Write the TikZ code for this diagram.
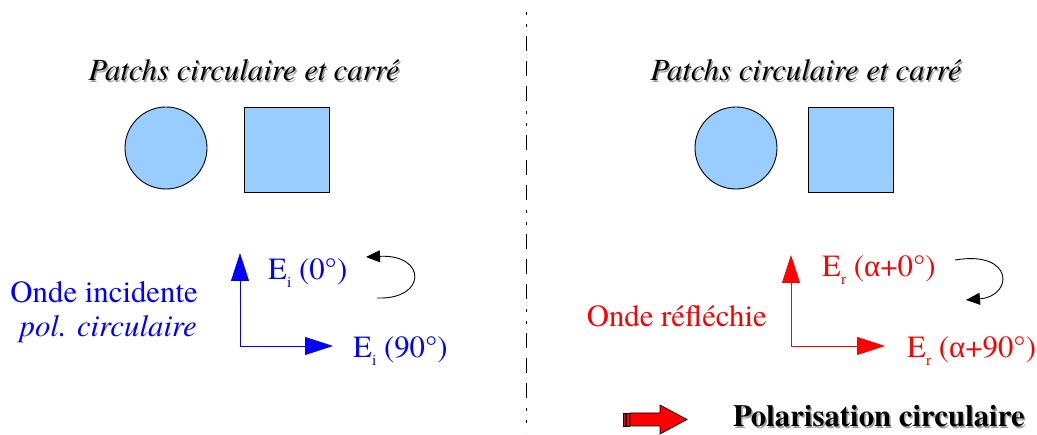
\documentclass[tikz,border=0pt]{standalone}
\usepackage{fontspec}
\setmainfont{texgyretermes}[Extension=.otf,UprightFont=*-regular,BoldFont=*-bold,ItalicFont=*-italic,BoldItalicFont=*-bolditalic]
\newfontfamily\symfont{Liberation Serif}
\usetikzlibrary{arrows.meta}
\definecolor{patch}{RGB}{153,204,255}
\definecolor{shad}{RGB}{160,160,160}
\newcommand{\Esub}[1]{E\raisebox{-7.5pt}{\fontsize{15.5}{15.5}\selectfont #1}}
\begin{document}
\begin{tikzpicture}[x=1pt,y=-1pt,
  txt/.style={inner sep=0pt,font=\fontsize{30.8}{36}\selectfont},
  shadowtxt/.style={txt,text=shad},
  patchshape/.style={draw=black,fill=patch,line width=0.9pt},
  fieldarrow/.style={line width=0.9pt,-{Triangle[length=28pt,width=18pt]}},
  rotarrow/.style={line width=0.9pt,black,-{Triangle[length=14pt,width=12pt]}},
  divider/.style={line width=0.9pt,dash pattern=on 3pt off 9pt on 3pt off 9pt on 15pt off 10pt on 15pt off 10pt on 15pt off 10pt}
]
\useasboundingbox (0,0) rectangle (1037,435);
% divider
\coordinate (dtop) at (526,12);
\coordinate (dbot) at (526,432);
\draw[divider] (dtop) -- (dbot);

% ---------- left half ----------
\node[shadowtxt,anchor=base] (ttlLs) at (245.5,82.5) {\itshape Patchs circulaire et carré};
\node[txt,anchor=base] (ttlL) at (244,81) {\itshape Patchs circulaire et carré};
\node[patchshape,circle,minimum size=82pt,inner sep=0pt] (circL) at (166,148) {};
\node[patchshape,rectangle,minimum width=85pt,minimum height=85pt,inner sep=0pt] (sqL) at (286.5,149.5) {};

\coordinate (oL) at (240,346);
\coordinate (vL) at (240,253);
\coordinate (hL) at (333,346);
\draw[fieldarrow,blue] (oL) -- (vL);
\draw[fieldarrow,blue] (oL) -- (hL);
\node[txt,text=blue,anchor=base west] (e0L) at (268,280) {\Esub{i} (0°)};
\node[txt,text=blue,anchor=base west] (e90L) at (353,358) {\Esub{i} (90°)};
\node[txt,text=blue,anchor=base east] (ondeL) at (198,303) {Onde incidente};
\node[txt,text=blue,anchor=base east] (polL) at (197,337) {\itshape pol. circulaire};
\coordinate (rLs) at (377,298);
\coordinate (rLe) at (366,257);
\draw[rotarrow] (rLs) .. controls (427,300) and (427,254) .. (rLe);

% ---------- right half ----------
\node[shadowtxt,anchor=base] (ttlRs) at (807.5,82.5) {\itshape Patchs circulaire et carré};
\node[txt,anchor=base] (ttlR) at (806,81) {\itshape Patchs circulaire et carré};
\node[patchshape,circle,minimum size=82pt,inner sep=0pt] (circR) at (736,148) {};
\node[patchshape,rectangle,minimum width=85pt,minimum height=85pt,inner sep=0pt] (sqR) at (851,149.5) {};

\coordinate (oR) at (791,346);
\coordinate (vR) at (791,255);
\coordinate (hR) at (885,346);
\draw[fieldarrow,red] (oR) -- (vR);
\draw[fieldarrow,red] (oR) -- (hR);
\node[txt,text=red,anchor=base west] (e0R) at (822,277) {\Esub{r} ({\symfont α}+0°)};
\node[txt,text=red,anchor=base west] (e90R) at (907,358) {\Esub{r} ({\symfont α}+90°)};
\node[txt,text=red,anchor=base east] (ondeR) at (767,327) {Onde réfléchie};
\coordinate (rRs) at (955,260);
\coordinate (rRe) at (966,300);
\draw[rotarrow] (rRs) .. controls (1014,250) and (1014,296) .. (rRe);

% ---------- block arrow + conclusion ----------
\draw[fill=red,line width=0.7pt] (623,413) rectangle (625.5,426);
\draw[fill=red,line width=0.7pt] (626.5,413) rectangle (629,426);
\draw[fill=red,line width=0.7pt] (630,413) -- (660,413) -- (660,405) -- (687,419.5) -- (660,434) -- (660,426) -- (630,426) -- cycle;
\node[shadowtxt,anchor=base west,font=\fontsize{30.8}{36}\selectfont\bfseries] (concls) at (734.5,428.5) {Polarisation circulaire};
\node[txt,anchor=base west,font=\fontsize{30.8}{36}\selectfont\bfseries] (concl) at (733,427) {Polarisation circulaire};
\end{tikzpicture}
\end{document}
